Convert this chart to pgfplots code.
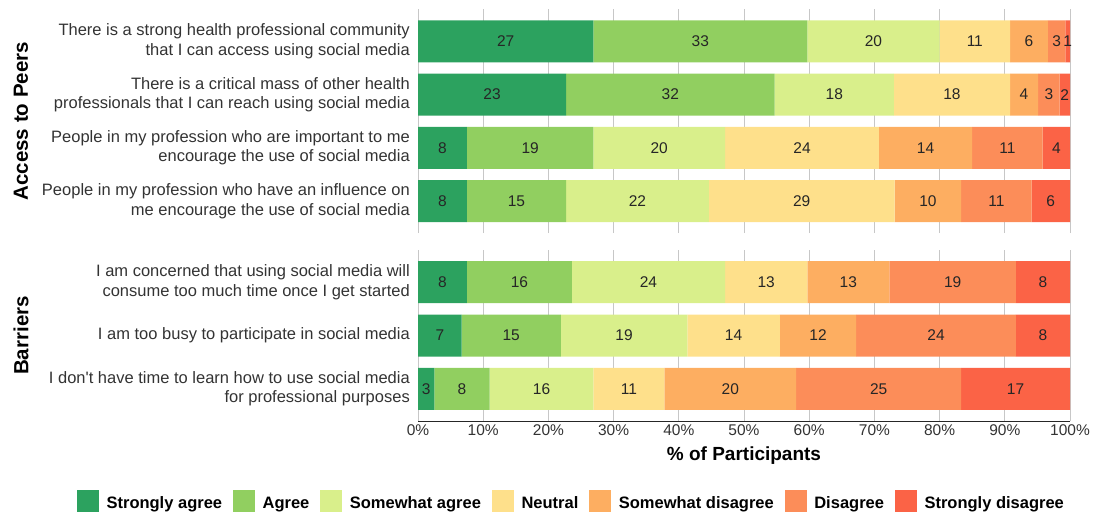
\documentclass[border=0pt]{standalone}
\usepackage{pgfplots}
\pgfplotsset{compat=1.18}
\usepackage{pgfplotstable}
\usepackage{fontspec}
\setmainfont{Liberation Sans}

\definecolor{csa}{HTML}{2CA25F}
\definecolor{ca}{HTML}{91CF60}
\definecolor{cswa}{HTML}{D9EF8B}
\definecolor{cn}{HTML}{FEE08B}
\definecolor{cswd}{HTML}{FDAE61}
\definecolor{cd}{HTML}{FC8D59}
\definecolor{csd}{HTML}{FB6346}

% rows numbered from the bottom of each panel
\pgfplotstableread{
row sa a swa n swd d sd Lsa La Lswa Ln Lswd Ld Lsd
4 26.9 32.8 20.3 10.8 5.8 2.7 0.7 27 33 20 11 6 3 1
3 22.7 32.0 18.3 17.8 4.3 3.3 1.6 23 32 18 18 4 3 2
2 7.5 19.4 20.2 23.6 14.3 10.8 4.2 8 19 20 24 14 11 4
1 7.5 15.2 21.9 28.5 10.2 10.8 5.9 8 15 22 29 10 11 6
}\toppanel

\pgfplotstableread{
row sa a swa n swd d sd Lsa La Lswa Ln Lswd Ld Lsd
3 7.5 16.1 23.5 12.6 12.6 19.4 8.3 8 16 24 13 13 19 8
2 6.7 15.2 19.4 14.2 11.7 24.5 8.3 7 15 19 14 12 24 8
1 2.5 8.5 15.9 10.9 20.2 25.3 16.7 3 8 16 11 20 25 17
}\botpanel

\pgfplotsset{
  panel/.style={
    scale only axis, width=652pt,
    xmin=0, xmax=100, enlarge x limits=false,
    xbar stacked, bar width=42pt,
    axis x line=bottom, axis y line=left,
    y axis line style={draw=none},
    x axis line style={-},
    major tick length=0pt,
    xtick={0,10,...,100},
    xmajorgrids, major grid style={color=black!22, line width=0.9pt},
    ytick={1,2,3,4},
    yticklabel style={align=right, font=\fontsize{16.5}{19.5}\selectfont, text=black!80, inner xsep=0pt, xshift=-8pt},
    xticklabel style={font=\fontsize{15.5}{18}\selectfont, text=black!80},
    /pgf/number format/assume math mode=true,
    every axis y label/.style={at={(axis description cs:-0.609,0.5)}, rotate=90, anchor=center, font=\bfseries\fontsize{20.5}{24}\selectfont},
    point meta=explicit symbolic,
    nodes near coords,
    every node near coord/.append style={anchor=center, font=\fontsize{15.5}{18}\selectfont, text=black!85},
    legend image code/.code={\fill[##1,/tikz/.cd,draw=none] (0pt,-9pt) rectangle (22pt,13pt);},
  },
  seg/.style={fill=#1, draw=none},
}

\begin{document}
\begin{tikzpicture}[x=1pt,y=1pt]
\useasboundingbox (0,0) rectangle (1094,512);

\begin{axis}[panel, at={(418pt,279pt)}, anchor=south west, height=223.5pt,
  ymin=0.4, ymax=4.6, xticklabels={}, x axis line style={draw=none},
  ylabel={Access to Peers},
  yticklabels={{People in my profession who have an influence on\\me encourage the use of social media},
               {People in my profession who are important to me\\encourage the use of social media},
               {There is a critical mass of other health\\professionals that I can reach using social media},
               {There is a strong health professional community\\that I can access using social media}}]
\addplot[seg=csa] table[x=sa, y=row, meta=Lsa] {\toppanel};
\addplot[seg=ca] table[x=a, y=row, meta=La] {\toppanel};
\addplot[seg=cswa] table[x=swa, y=row, meta=Lswa] {\toppanel};
\addplot[seg=cn] table[x=n, y=row, meta=Ln] {\toppanel};
\addplot[seg=cswd] table[x=swd, y=row, meta=Lswd] {\toppanel};
\addplot[seg=cd] table[x=d, y=row, meta=Ld] {\toppanel};
\addplot[seg=csd] table[x=sd, y=row, meta=Lsd] {\toppanel};
\end{axis}

\begin{axis}[panel, at={(418pt,91pt)}, anchor=south west, height=171pt,
  ymin=0.4, ymax=3.6, ytick={1,2,3},
  x axis line style={color=black!85, line width=0.8pt},
  xticklabel={\pgfmathprintnumber{\tick}\%},
  xlabel={\% of Participants},
  xlabel style={at={(axis description cs:0.5,-0.205)}, anchor=center, font=\bfseries\fontsize{19}{22}\selectfont},
  ylabel={Barriers},
  yticklabels={{I don\textquotesingle t have time to learn how to use social media\\for professional purposes},
               {I am too busy to participate in social media},
               {I am concerned that using social media will\\consume too much time once I get started}},
  legend columns=7,
  legend style={at={(axis description cs:0.2339,-0.468)}, anchor=center, draw=none, fill=none,
    font=\bfseries\fontsize{16.5}{19}\selectfont,
    nodes={inner sep=0pt},
    /tikz/every odd column/.append style={column sep=7.5pt},
    /tikz/every even column/.append style={column sep=11pt, text height=12pt, text depth=3.5pt}},
  legend cell align=left]
\addplot[seg=csa] table[x=sa, y=row, meta=Lsa] {\botpanel};
\addplot[seg=ca] table[x=a, y=row, meta=La] {\botpanel};
\addplot[seg=cswa] table[x=swa, y=row, meta=Lswa] {\botpanel};
\addplot[seg=cn] table[x=n, y=row, meta=Ln] {\botpanel};
\addplot[seg=cswd] table[x=swd, y=row, meta=Lswd] {\botpanel};
\addplot[seg=cd] table[x=d, y=row, meta=Ld] {\botpanel};
\addplot[seg=csd] table[x=sd, y=row, meta=Lsd] {\botpanel};
\legend{Strongly agree, Agree, Somewhat agree, Neutral, Somewhat disagree, Disagree, Strongly disagree}
\end{axis}
\end{tikzpicture}
\end{document}
